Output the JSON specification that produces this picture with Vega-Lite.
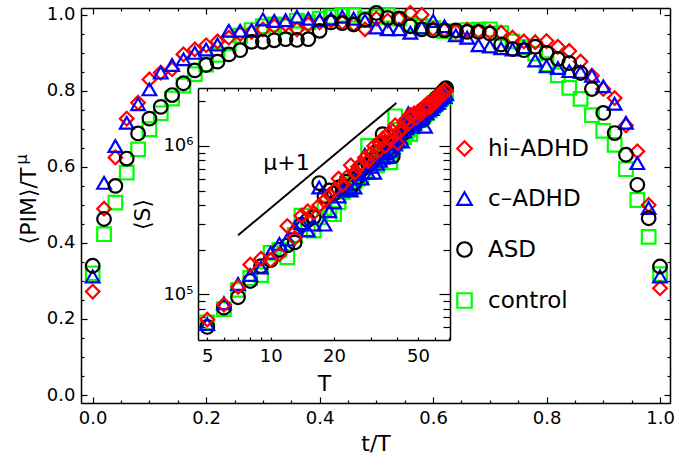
{
  "$schema": "https://vega.github.io/schema/vega-lite/v6.json",
  "width": 589,
  "height": 395,
  "autosize": {"type": "none"},
  "padding": {"left": 81, "top": 8, "right": 5, "bottom": 61},
  "background": "white",
  "config": {
    "font": "DejaVu Sans",
    "view": {"stroke": null},
    "axis": {
      "grid": false,
      "domainColor": "black",
      "domainWidth": 1.5,
      "tickColor": "black",
      "tickWidth": 1.2,
      "labelColor": "black",
      "titleColor": "black",
      "labelFont": "DejaVu Sans",
      "titleFont": "DejaVu Sans",
      "labelFontSize": 18,
      "titleFontSize": 22,
      "titleFontWeight": "normal",
      "labelFlush": false,
      "labelOverlap": false
    }
  },
  "datasets": {
    "main": [
      {"g":"control","x":0,"y":0.32},{"g":"control","x":0.02,"y":0.423},{"g":"control","x":0.04,"y":0.506},{"g":"control","x":0.06,"y":0.585},{"g":"control","x":0.08,"y":0.646},{"g":"control","x":0.1,"y":0.699},{"g":"control","x":0.12,"y":0.741},{"g":"control","x":0.14,"y":0.78},{"g":"control","x":0.16,"y":0.814},{"g":"control","x":0.18,"y":0.844},{"g":"control","x":0.2,"y":0.869},{"g":"control","x":0.22,"y":0.895},{"g":"control","x":0.24,"y":0.925},{"g":"control","x":0.26,"y":0.945},{"g":"control","x":0.28,"y":0.96},{"g":"control","x":0.3,"y":0.97},{"g":"control","x":0.32,"y":0.975},{"g":"control","x":0.34,"y":0.97},{"g":"control","x":0.36,"y":0.985},{"g":"control","x":0.38,"y":0.98},{"g":"control","x":0.4,"y":0.99},{"g":"control","x":0.42,"y":0.995},{"g":"control","x":0.44,"y":1.0},{"g":"control","x":0.46,"y":1.0},{"g":"control","x":0.48,"y":0.99},{"g":"control","x":0.5,"y":0.995},{"g":"control","x":0.52,"y":1.0},{"g":"control","x":0.54,"y":0.99},{"g":"control","x":0.56,"y":0.975},{"g":"control","x":0.58,"y":0.97},{"g":"control","x":0.6,"y":0.965},{"g":"control","x":0.62,"y":0.957},{"g":"control","x":0.64,"y":0.952},{"g":"control","x":0.66,"y":0.96},{"g":"control","x":0.68,"y":0.961},{"g":"control","x":0.7,"y":0.962},{"g":"control","x":0.72,"y":0.952},{"g":"control","x":0.74,"y":0.93},{"g":"control","x":0.76,"y":0.915},{"g":"control","x":0.78,"y":0.898},{"g":"control","x":0.8,"y":0.87},{"g":"control","x":0.82,"y":0.841},{"g":"control","x":0.84,"y":0.808},{"g":"control","x":0.86,"y":0.779},{"g":"control","x":0.88,"y":0.736},{"g":"control","x":0.9,"y":0.695},{"g":"control","x":0.92,"y":0.658},{"g":"control","x":0.94,"y":0.594},{"g":"control","x":0.96,"y":0.513},{"g":"control","x":0.98,"y":0.416},{"g":"control","x":1.0,"y":0.318},
      {"g":"hi–ADHD","x":0,"y":0.272},{"g":"hi–ADHD","x":0.02,"y":0.49},{"g":"hi–ADHD","x":0.04,"y":0.625},{"g":"hi–ADHD","x":0.06,"y":0.727},{"g":"hi–ADHD","x":0.08,"y":0.769},{"g":"hi–ADHD","x":0.1,"y":0.83},{"g":"hi–ADHD","x":0.12,"y":0.848},{"g":"hi–ADHD","x":0.14,"y":0.857},{"g":"hi–ADHD","x":0.16,"y":0.896},{"g":"hi–ADHD","x":0.18,"y":0.909},{"g":"hi–ADHD","x":0.2,"y":0.92},{"g":"hi–ADHD","x":0.22,"y":0.93},{"g":"hi–ADHD","x":0.24,"y":0.94},{"g":"hi–ADHD","x":0.26,"y":0.95},{"g":"hi–ADHD","x":0.28,"y":0.955},{"g":"hi–ADHD","x":0.3,"y":0.962},{"g":"hi–ADHD","x":0.32,"y":0.97},{"g":"hi–ADHD","x":0.34,"y":0.975},{"g":"hi–ADHD","x":0.36,"y":0.962},{"g":"hi–ADHD","x":0.38,"y":0.975},{"g":"hi–ADHD","x":0.4,"y":0.98},{"g":"hi–ADHD","x":0.42,"y":0.985},{"g":"hi–ADHD","x":0.44,"y":0.98},{"g":"hi–ADHD","x":0.46,"y":0.975},{"g":"hi–ADHD","x":0.48,"y":0.962},{"g":"hi–ADHD","x":0.5,"y":0.99},{"g":"hi–ADHD","x":0.52,"y":0.985},{"g":"hi–ADHD","x":0.54,"y":0.99},{"g":"hi–ADHD","x":0.56,"y":1.005},{"g":"hi–ADHD","x":0.58,"y":1.0},{"g":"hi–ADHD","x":0.6,"y":0.963},{"g":"hi–ADHD","x":0.62,"y":0.96},{"g":"hi–ADHD","x":0.64,"y":0.957},{"g":"hi–ADHD","x":0.66,"y":0.961},{"g":"hi–ADHD","x":0.68,"y":0.957},{"g":"hi–ADHD","x":0.7,"y":0.955},{"g":"hi–ADHD","x":0.72,"y":0.953},{"g":"hi–ADHD","x":0.74,"y":0.94},{"g":"hi–ADHD","x":0.76,"y":0.93},{"g":"hi–ADHD","x":0.78,"y":0.928},{"g":"hi–ADHD","x":0.8,"y":0.931},{"g":"hi–ADHD","x":0.82,"y":0.916},{"g":"hi–ADHD","x":0.84,"y":0.905},{"g":"hi–ADHD","x":0.86,"y":0.877},{"g":"hi–ADHD","x":0.88,"y":0.84},{"g":"hi–ADHD","x":0.9,"y":0.805},{"g":"hi–ADHD","x":0.92,"y":0.781},{"g":"hi–ADHD","x":0.94,"y":0.709},{"g":"hi–ADHD","x":0.96,"y":0.641},{"g":"hi–ADHD","x":0.98,"y":0.5},{"g":"hi–ADHD","x":1.0,"y":0.281},
      {"g":"c–ADHD","x":0,"y":0.312},{"g":"c–ADHD","x":0.02,"y":0.558},{"g":"c–ADHD","x":0.04,"y":0.655},{"g":"c–ADHD","x":0.06,"y":0.716},{"g":"c–ADHD","x":0.08,"y":0.765},{"g":"c–ADHD","x":0.1,"y":0.804},{"g":"c–ADHD","x":0.12,"y":0.848},{"g":"c–ADHD","x":0.14,"y":0.868},{"g":"c–ADHD","x":0.16,"y":0.883},{"g":"c–ADHD","x":0.18,"y":0.9},{"g":"c–ADHD","x":0.2,"y":0.909},{"g":"c–ADHD","x":0.22,"y":0.922},{"g":"c–ADHD","x":0.24,"y":0.958},{"g":"c–ADHD","x":0.26,"y":0.958},{"g":"c–ADHD","x":0.28,"y":0.959},{"g":"c–ADHD","x":0.3,"y":0.988},{"g":"c–ADHD","x":0.32,"y":0.984},{"g":"c–ADHD","x":0.34,"y":0.986},{"g":"c–ADHD","x":0.36,"y":0.995},{"g":"c–ADHD","x":0.38,"y":0.99},{"g":"c–ADHD","x":0.4,"y":0.986},{"g":"c–ADHD","x":0.42,"y":0.99},{"g":"c–ADHD","x":0.44,"y":0.995},{"g":"c–ADHD","x":0.46,"y":0.99},{"g":"c–ADHD","x":0.48,"y":0.985},{"g":"c–ADHD","x":0.5,"y":0.967},{"g":"c–ADHD","x":0.52,"y":0.962},{"g":"c–ADHD","x":0.54,"y":0.962},{"g":"c–ADHD","x":0.56,"y":0.953},{"g":"c–ADHD","x":0.58,"y":0.967},{"g":"c–ADHD","x":0.6,"y":0.984},{"g":"c–ADHD","x":0.62,"y":0.97},{"g":"c–ADHD","x":0.64,"y":0.946},{"g":"c–ADHD","x":0.66,"y":0.94},{"g":"c–ADHD","x":0.68,"y":0.92},{"g":"c–ADHD","x":0.7,"y":0.917},{"g":"c–ADHD","x":0.72,"y":0.912},{"g":"c–ADHD","x":0.74,"y":0.909},{"g":"c–ADHD","x":0.76,"y":0.915},{"g":"c–ADHD","x":0.78,"y":0.88},{"g":"c–ADHD","x":0.8,"y":0.865},{"g":"c–ADHD","x":0.82,"y":0.86},{"g":"c–ADHD","x":0.84,"y":0.852},{"g":"c–ADHD","x":0.86,"y":0.85},{"g":"c–ADHD","x":0.88,"y":0.84},{"g":"c–ADHD","x":0.9,"y":0.812},{"g":"c–ADHD","x":0.92,"y":0.766},{"g":"c–ADHD","x":0.94,"y":0.716},{"g":"c–ADHD","x":0.96,"y":0.61},{"g":"c–ADHD","x":0.98,"y":0.492},{"g":"c–ADHD","x":1.0,"y":0.312},
      {"g":"ASD","x":0,"y":0.34},{"g":"ASD","x":0.02,"y":0.463},{"g":"ASD","x":0.04,"y":0.55},{"g":"ASD","x":0.06,"y":0.622},{"g":"ASD","x":0.08,"y":0.688},{"g":"ASD","x":0.1,"y":0.727},{"g":"ASD","x":0.12,"y":0.758},{"g":"ASD","x":0.14,"y":0.789},{"g":"ASD","x":0.16,"y":0.82},{"g":"ASD","x":0.18,"y":0.854},{"g":"ASD","x":0.2,"y":0.868},{"g":"ASD","x":0.22,"y":0.877},{"g":"ASD","x":0.24,"y":0.896},{"g":"ASD","x":0.26,"y":0.907},{"g":"ASD","x":0.28,"y":0.929},{"g":"ASD","x":0.3,"y":0.929},{"g":"ASD","x":0.32,"y":0.933},{"g":"ASD","x":0.34,"y":0.936},{"g":"ASD","x":0.36,"y":0.934},{"g":"ASD","x":0.38,"y":0.936},{"g":"ASD","x":0.4,"y":0.958},{"g":"ASD","x":0.42,"y":0.98},{"g":"ASD","x":0.44,"y":0.978},{"g":"ASD","x":0.46,"y":0.975},{"g":"ASD","x":0.48,"y":0.987},{"g":"ASD","x":0.5,"y":1.005},{"g":"ASD","x":0.52,"y":0.992},{"g":"ASD","x":0.54,"y":0.99},{"g":"ASD","x":0.56,"y":0.97},{"g":"ASD","x":0.58,"y":0.962},{"g":"ASD","x":0.6,"y":0.959},{"g":"ASD","x":0.62,"y":0.959},{"g":"ASD","x":0.64,"y":0.959},{"g":"ASD","x":0.66,"y":0.955},{"g":"ASD","x":0.68,"y":0.955},{"g":"ASD","x":0.7,"y":0.951},{"g":"ASD","x":0.72,"y":0.922},{"g":"ASD","x":0.74,"y":0.91},{"g":"ASD","x":0.76,"y":0.907},{"g":"ASD","x":0.78,"y":0.916},{"g":"ASD","x":0.8,"y":0.9},{"g":"ASD","x":0.82,"y":0.884},{"g":"ASD","x":0.84,"y":0.873},{"g":"ASD","x":0.86,"y":0.847},{"g":"ASD","x":0.88,"y":0.805},{"g":"ASD","x":0.9,"y":0.742},{"g":"ASD","x":0.92,"y":0.689},{"g":"ASD","x":0.94,"y":0.632},{"g":"ASD","x":0.96,"y":0.553},{"g":"ASD","x":0.98,"y":0.465},{"g":"ASD","x":1.0,"y":0.338}
    ],
    "inset": [
      {"g":"control","T":5,"S":64570},{"g":"control","T":6,"S":79430},{"g":"control","T":7,"S":107200},{"g":"control","T":8,"S":128800},{"g":"control","T":9,"S":134900},{"g":"control","T":10,"S":190500},{"g":"control","T":11,"S":199500},{"g":"control","T":12,"S":177800},{"g":"control","T":13,"S":251200},{"g":"control","T":14,"S":338800},{"g":"control","T":15,"S":275400},{"g":"control","T":16,"S":269200},{"g":"control","T":17,"S":331100},{"g":"control","T":18,"S":380200},{"g":"control","T":19,"S":346700},{"g":"control","T":20,"S":346700},{"g":"control","T":21,"S":416900},{"g":"control","T":22,"S":489800},{"g":"control","T":23,"S":549500},{"g":"control","T":24,"S":524800},{"g":"control","T":25,"S":575400},{"g":"control","T":26,"S":602600},{"g":"control","T":27,"S":631000},{"g":"control","T":28,"S":676100},{"g":"control","T":29,"S":1000000},{"g":"control","T":30,"S":758600},{"g":"control","T":31,"S":794300},{"g":"control","T":32,"S":741300},{"g":"control","T":33,"S":831800},{"g":"control","T":34,"S":891300},{"g":"control","T":35,"S":933300},{"g":"control","T":36,"S":871000},{"g":"control","T":37,"S":776200},{"g":"control","T":38,"S":1000000},{"g":"control","T":39,"S":1585000},{"g":"control","T":40,"S":1072000},{"g":"control","T":41,"S":1122000},{"g":"control","T":42,"S":1175000},{"g":"control","T":43,"S":1148000},{"g":"control","T":44,"S":1230000},{"g":"control","T":45,"S":1288000},{"g":"control","T":46,"S":1202000},{"g":"control","T":47,"S":1349000},{"g":"control","T":48,"S":1413000},{"g":"control","T":49,"S":1479000},{"g":"control","T":50,"S":1549000},{"g":"control","T":51,"S":1514000},{"g":"control","T":52,"S":1622000},{"g":"control","T":53,"S":1585000},{"g":"control","T":54,"S":1698000},{"g":"control","T":55,"S":1660000},{"g":"control","T":56,"S":1778000},{"g":"control","T":57,"S":1738000},{"g":"control","T":58,"S":1862000},{"g":"control","T":59,"S":1820000},{"g":"control","T":60,"S":1950000},{"g":"control","T":61,"S":1905000},{"g":"control","T":62,"S":2042000},{"g":"control","T":63,"S":1995000},{"g":"control","T":64,"S":2089000},{"g":"control","T":65,"S":2138000},{"g":"control","T":66,"S":2188000},{"g":"control","T":67,"S":2138000},{"g":"control","T":68,"S":2239000},
      {"g":"ASD","T":5,"S":60260},{"g":"ASD","T":6,"S":81280},{"g":"ASD","T":7,"S":95500},{"g":"ASD","T":8,"S":123000},{"g":"ASD","T":9,"S":154900},{"g":"ASD","T":10,"S":169800},{"g":"ASD","T":11,"S":199500},{"g":"ASD","T":12,"S":213800},{"g":"ASD","T":13,"S":223900},{"g":"ASD","T":14,"S":295100},{"g":"ASD","T":15,"S":316200},{"g":"ASD","T":16,"S":331100},{"g":"ASD","T":17,"S":562300},{"g":"ASD","T":18,"S":457100},{"g":"ASD","T":19,"S":501200},{"g":"ASD","T":20,"S":478600},{"g":"ASD","T":21,"S":524800},{"g":"ASD","T":22,"S":537000},{"g":"ASD","T":23,"S":575400},{"g":"ASD","T":24,"S":524800},{"g":"ASD","T":25,"S":562300},{"g":"ASD","T":26,"S":616600},{"g":"ASD","T":27,"S":691800},{"g":"ASD","T":28,"S":724400},{"g":"ASD","T":29,"S":758600},{"g":"ASD","T":30,"S":758600},{"g":"ASD","T":31,"S":812800},{"g":"ASD","T":32,"S":891300},{"g":"ASD","T":33,"S":1000000},{"g":"ASD","T":34,"S":1202000},{"g":"ASD","T":35,"S":1047000},{"g":"ASD","T":36,"S":955000},{"g":"ASD","T":37,"S":912000},{"g":"ASD","T":38,"S":851100},{"g":"ASD","T":39,"S":1047000},{"g":"ASD","T":40,"S":1122000},{"g":"ASD","T":41,"S":1175000},{"g":"ASD","T":42,"S":1259000},{"g":"ASD","T":43,"S":1230000},{"g":"ASD","T":44,"S":1349000},{"g":"ASD","T":45,"S":1413000},{"g":"ASD","T":46,"S":1380000},{"g":"ASD","T":47,"S":1479000},{"g":"ASD","T":48,"S":1549000},{"g":"ASD","T":49,"S":1445000},{"g":"ASD","T":50,"S":1585000},{"g":"ASD","T":51,"S":1660000},{"g":"ASD","T":52,"S":1622000},{"g":"ASD","T":53,"S":1514000},{"g":"ASD","T":54,"S":1738000},{"g":"ASD","T":55,"S":1698000},{"g":"ASD","T":56,"S":1820000},{"g":"ASD","T":57,"S":1905000},{"g":"ASD","T":58,"S":1862000},{"g":"ASD","T":59,"S":1950000},{"g":"ASD","T":60,"S":2042000},{"g":"ASD","T":61,"S":1995000},{"g":"ASD","T":62,"S":2138000},{"g":"ASD","T":63,"S":2089000},{"g":"ASD","T":64,"S":2188000},{"g":"ASD","T":65,"S":2291000},{"g":"ASD","T":66,"S":2344000},{"g":"ASD","T":67,"S":2399000},{"g":"ASD","T":68,"S":2455000},
      {"g":"c–ADHD","T":5,"S":63100},{"g":"c–ADHD","T":6,"S":87100},{"g":"c–ADHD","T":7,"S":117500},{"g":"c–ADHD","T":8,"S":134900},{"g":"c–ADHD","T":9,"S":151400},{"g":"c–ADHD","T":10,"S":190500},{"g":"c–ADHD","T":11,"S":218800},{"g":"c–ADHD","T":12,"S":234400},{"g":"c–ADHD","T":13,"S":281800},{"g":"c–ADHD","T":14,"S":302000},{"g":"c–ADHD","T":15,"S":269200},{"g":"c–ADHD","T":16,"S":295100},{"g":"c–ADHD","T":17,"S":524800},{"g":"c–ADHD","T":18,"S":295100},{"g":"c–ADHD","T":19,"S":363100},{"g":"c–ADHD","T":20,"S":416900},{"g":"c–ADHD","T":21,"S":457100},{"g":"c–ADHD","T":22,"S":501200},{"g":"c–ADHD","T":23,"S":512900},{"g":"c–ADHD","T":24,"S":501200},{"g":"c–ADHD","T":25,"S":524800},{"g":"c–ADHD","T":26,"S":645700},{"g":"c–ADHD","T":27,"S":602600},{"g":"c–ADHD","T":28,"S":871000},{"g":"c–ADHD","T":29,"S":660700},{"g":"c–ADHD","T":30,"S":724400},{"g":"c–ADHD","T":31,"S":660700},{"g":"c–ADHD","T":32,"S":758600},{"g":"c–ADHD","T":33,"S":794300},{"g":"c–ADHD","T":34,"S":831800},{"g":"c–ADHD","T":35,"S":891300},{"g":"c–ADHD","T":36,"S":851100},{"g":"c–ADHD","T":37,"S":933300},{"g":"c–ADHD","T":38,"S":977200},{"g":"c–ADHD","T":39,"S":1023000},{"g":"c–ADHD","T":40,"S":1096000},{"g":"c–ADHD","T":41,"S":1148000},{"g":"c–ADHD","T":42,"S":1072000},{"g":"c–ADHD","T":43,"S":1259000},{"g":"c–ADHD","T":44,"S":1318000},{"g":"c–ADHD","T":45,"S":1660000},{"g":"c–ADHD","T":46,"S":1445000},{"g":"c–ADHD","T":47,"S":1349000},{"g":"c–ADHD","T":48,"S":1413000},{"g":"c–ADHD","T":49,"S":1514000},{"g":"c–ADHD","T":50,"S":1479000},{"g":"c–ADHD","T":51,"S":1585000},{"g":"c–ADHD","T":52,"S":1549000},{"g":"c–ADHD","T":53,"S":1622000},{"g":"c–ADHD","T":54,"S":1349000},{"g":"c–ADHD","T":55,"S":1660000},{"g":"c–ADHD","T":56,"S":1738000},{"g":"c–ADHD","T":57,"S":1820000},{"g":"c–ADHD","T":58,"S":1778000},{"g":"c–ADHD","T":59,"S":1862000},{"g":"c–ADHD","T":60,"S":1905000},{"g":"c–ADHD","T":61,"S":1995000},{"g":"c–ADHD","T":62,"S":1950000},{"g":"c–ADHD","T":63,"S":2042000},{"g":"c–ADHD","T":64,"S":2089000},{"g":"c–ADHD","T":65,"S":2138000},{"g":"c–ADHD","T":66,"S":2188000},{"g":"c–ADHD","T":67,"S":2138000},{"g":"c–ADHD","T":68,"S":2239000},
      {"g":"hi–ADHD","T":5,"S":67600},{"g":"hi–ADHD","T":6,"S":85100},{"g":"hi–ADHD","T":7,"S":112200},{"g":"hi–ADHD","T":8,"S":158500},{"g":"hi–ADHD","T":9,"S":173800},{"g":"hi–ADHD","T":10,"S":169800},{"g":"hi–ADHD","T":11,"S":186200},{"g":"hi–ADHD","T":12,"S":288400},{"g":"hi–ADHD","T":13,"S":239900},{"g":"hi–ADHD","T":14,"S":338800},{"g":"hi–ADHD","T":15,"S":363100},{"g":"hi–ADHD","T":16,"S":354800},{"g":"hi–ADHD","T":17,"S":398100},{"g":"hi–ADHD","T":18,"S":426600},{"g":"hi–ADHD","T":19,"S":467700},{"g":"hi–ADHD","T":20,"S":501200},{"g":"hi–ADHD","T":21,"S":602600},{"g":"hi–ADHD","T":22,"S":549500},{"g":"hi–ADHD","T":23,"S":616600},{"g":"hi–ADHD","T":24,"S":741300},{"g":"hi–ADHD","T":25,"S":660700},{"g":"hi–ADHD","T":26,"S":724400},{"g":"hi–ADHD","T":27,"S":758600},{"g":"hi–ADHD","T":28,"S":831800},{"g":"hi–ADHD","T":29,"S":794300},{"g":"hi–ADHD","T":30,"S":891300},{"g":"hi–ADHD","T":31,"S":1000000},{"g":"hi–ADHD","T":32,"S":912000},{"g":"hi–ADHD","T":33,"S":1047000},{"g":"hi–ADHD","T":34,"S":1122000},{"g":"hi–ADHD","T":35,"S":1000000},{"g":"hi–ADHD","T":36,"S":1202000},{"g":"hi–ADHD","T":37,"S":1096000},{"g":"hi–ADHD","T":38,"S":1259000},{"g":"hi–ADHD","T":39,"S":1380000},{"g":"hi–ADHD","T":40,"S":1047000},{"g":"hi–ADHD","T":41,"S":1259000},{"g":"hi–ADHD","T":42,"S":1318000},{"g":"hi–ADHD","T":43,"S":1445000},{"g":"hi–ADHD","T":44,"S":1514000},{"g":"hi–ADHD","T":45,"S":1413000},{"g":"hi–ADHD","T":46,"S":1622000},{"g":"hi–ADHD","T":47,"S":1585000},{"g":"hi–ADHD","T":48,"S":1660000},{"g":"hi–ADHD","T":49,"S":1549000},{"g":"hi–ADHD","T":50,"S":1698000},{"g":"hi–ADHD","T":51,"S":1738000},{"g":"hi–ADHD","T":52,"S":1660000},{"g":"hi–ADHD","T":53,"S":1820000},{"g":"hi–ADHD","T":54,"S":1778000},{"g":"hi–ADHD","T":55,"S":1905000},{"g":"hi–ADHD","T":56,"S":1862000},{"g":"hi–ADHD","T":57,"S":1820000},{"g":"hi–ADHD","T":58,"S":1995000},{"g":"hi–ADHD","T":59,"S":2042000},{"g":"hi–ADHD","T":60,"S":1950000},{"g":"hi–ADHD","T":61,"S":2089000},{"g":"hi–ADHD","T":62,"S":2138000},{"g":"hi–ADHD","T":63,"S":2239000},{"g":"hi–ADHD","T":64,"S":2188000},{"g":"hi–ADHD","T":65,"S":2291000},{"g":"hi–ADHD","T":66,"S":2239000},{"g":"hi–ADHD","T":67,"S":2399000},{"g":"hi–ADHD","T":68,"S":2344000}
    ],
    "slope": [{"T": 7, "S": 250000}, {"T": 39.5, "S": 1950000}],
    "note": [{"text": "μ+1", "T": 11.9, "S": 764000}],
    "sup": [{"text": "μ", "x": -0.125, "y": 0.62}]
  },
  "resolve": {"scale": {"x": "independent", "y": "independent"}},
  "layer": [
    {
      "data": {"name": "main"},
      "mark": {"type": "point", "filled": false, "size": 185, "strokeWidth": 2.2, "opacity": 1},
      "encoding": {
        "x": {"field": "x", "type": "quantitative", "scale": {"domain": [-0.0206, 1.0176], "nice": false, "zero": false},
          "axis": {"orient": "bottom", "values": [0, 0.2, 0.4, 0.6, 0.8, 1.0], "format": ".1f", "tickSize": -6, "labelPadding": 12, "title": "t/T", "titlePadding": 6}},
        "y": {"field": "y", "type": "quantitative", "scale": {"domain": [-0.021, 1.018], "nice": false, "zero": false},
          "axis": {"orient": "left", "values": [0, 0.2, 0.4, 0.6, 0.8, 1.0], "format": ".1f", "tickSize": -6, "labelPadding": 12, "title": "⟨PIM⟩/T", "titlePadding": 6}},
        "color": {"field": "g", "type": "nominal",
          "scale": {"domain": ["hi–ADHD", "c–ADHD", "ASD", "control"], "range": ["#ff0000", "#0000ff", "#000000", "#00ff00"]},
          "legend": {"orient": "none", "legendX": 372, "legendY": 129, "title": null, "labelFontSize": 23, "labelColor": "black", "symbolSize": 210, "symbolStrokeWidth": 2.2, "rowPadding": 26, "labelOffset": 12, "padding": 0}},
        "shape": {"field": "g", "type": "nominal",
          "scale": {"domain": ["hi–ADHD", "c–ADHD", "ASD", "control"], "range": ["diamond", "triangle-up", "circle", "square"]},
          "legend": {"orient": "none", "legendX": 372, "legendY": 129, "title": null, "labelFontSize": 23, "labelColor": "black", "symbolSize": 210, "symbolStrokeWidth": 2.2, "rowPadding": 26, "labelOffset": 12, "padding": 0}}
      }
    },
    {
      "data": {"name": "sup"},
      "mark": {"type": "text", "fontSize": 16, "angle": 270, "align": "center", "baseline": "middle", "color": "black"},
      "encoding": {
        "x": {"field": "x", "type": "quantitative", "scale": {"domain": [-0.0206, 1.0176], "nice": false, "zero": false},
          "axis": {"orient": "bottom", "values": [0.05, 0.1, 0.15, 0.25, 0.3, 0.35, 0.45, 0.5, 0.55, 0.65, 0.7, 0.75, 0.85, 0.9, 0.95], "tickSize": -3, "labels": false, "domain": false, "title": null}},
        "y": {"field": "y", "type": "quantitative", "scale": {"domain": [-0.021, 1.018], "nice": false, "zero": false},
          "axis": {"orient": "left", "values": [0.05, 0.1, 0.15, 0.25, 0.3, 0.35, 0.45, 0.5, 0.55, 0.65, 0.7, 0.75, 0.85, 0.9, 0.95], "tickSize": -3, "labels": false, "domain": false, "title": null}},
        "text": {"field": "text"}
      }
    },
    {
      "data": {"name": "sup"},
      "mark": {"type": "point", "opacity": 0},
      "encoding": {
        "x": {"field": "x", "type": "quantitative", "scale": {"domain": [-0.0206, 1.0176], "nice": false, "zero": false},
          "axis": {"orient": "top", "values": [0, 0.2, 0.4, 0.6, 0.8, 1.0], "tickSize": -6, "labels": false, "title": null}},
        "y": {"field": "y", "type": "quantitative", "scale": {"domain": [-0.021, 1.018], "nice": false, "zero": false},
          "axis": {"orient": "right", "values": [0, 0.2, 0.4, 0.6, 0.8, 1.0], "tickSize": -6, "labels": false, "title": null}}
      }
    },
    {
      "data": {"name": "sup"},
      "mark": {"type": "point", "opacity": 0},
      "encoding": {
        "x": {"field": "x", "type": "quantitative", "scale": {"domain": [-0.0206, 1.0176], "nice": false, "zero": false},
          "axis": {"orient": "top", "values": [0.05, 0.1, 0.15, 0.25, 0.3, 0.35, 0.45, 0.5, 0.55, 0.65, 0.7, 0.75, 0.85, 0.9, 0.95], "tickSize": -3, "labels": false, "domain": false, "title": null}},
        "y": {"field": "y", "type": "quantitative", "scale": {"domain": [-0.021, 1.018], "nice": false, "zero": false},
          "axis": {"orient": "right", "values": [0.05, 0.1, 0.15, 0.25, 0.3, 0.35, 0.45, 0.5, 0.55, 0.65, 0.7, 0.75, 0.85, 0.9, 0.95], "tickSize": -3, "labels": false, "domain": false, "title": null}}
      }
    },
    {
      "data": {"name": "inset"},
      "mark": {"type": "point", "filled": false, "size": 185, "strokeWidth": 2.2, "opacity": 1},
      "encoding": {
        "x": {"field": "T", "type": "quantitative", "scale": {"type": "log", "domain": [4.52, 71], "range": [117, 369], "nice": false},
          "axis": {"orient": "bottom", "offset": -63, "values": [5, 6, 7, 8, 9, 10, 20, 30, 40, 50, 60, 70], "labelExpr": "(datum.value == 5 || datum.value == 10 || datum.value == 20 || datum.value == 50) ? '' + datum.value : ''", "tickSize": -3, "labelPadding": 10, "title": "T", "titlePadding": 8}},
        "y": {"field": "S", "type": "quantitative", "scale": {"type": "log", "domain": [49200, 2460000], "range": [332, 80], "nice": false},
          "axis": {"orient": "left", "offset": -117, "values": [100000, 1000000], "labelExpr": "datum.value >= 500000 ? '10⁶' : '10⁵'", "tickSize": -11, "labelPadding": 16, "title": "⟨S⟩", "titlePadding": 8}},
        "color": {"field": "g", "type": "nominal",
          "scale": {"domain": ["hi–ADHD", "c–ADHD", "ASD", "control"], "range": ["#ff0000", "#0000ff", "#000000", "#00ff00"]}, "legend": null},
        "shape": {"field": "g", "type": "nominal",
          "scale": {"domain": ["hi–ADHD", "c–ADHD", "ASD", "control"], "range": ["diamond", "triangle-up", "circle", "square"]}, "legend": null}
      }
    },
    {
      "data": {"name": "slope"},
      "mark": {"type": "line", "color": "black", "strokeWidth": 2},
      "encoding": {
        "x": {"field": "T", "type": "quantitative", "scale": {"type": "log", "domain": [4.52, 71], "range": [117, 369], "nice": false},
          "axis": {"orient": "top", "offset": -80, "values": [5, 6, 7, 8, 9, 10, 20, 30, 40, 50, 60, 70], "tickSize": -3, "labels": false, "title": null}},
        "y": {"field": "S", "type": "quantitative", "scale": {"type": "log", "domain": [49200, 2460000], "range": [332, 80], "nice": false},
          "axis": {"orient": "left", "offset": -117, "values": [60000, 70000, 80000, 90000, 200000, 300000, 400000, 500000, 600000, 700000, 800000, 900000, 2000000], "tickSize": -7, "labels": false, "domain": false, "title": null}}
      }
    },
    {
      "data": {"name": "note"},
      "mark": {"type": "text", "fontSize": 22, "align": "center", "baseline": "middle", "color": "black"},
      "encoding": {
        "x": {"field": "T", "type": "quantitative", "scale": {"type": "log", "domain": [4.52, 71], "range": [117, 369], "nice": false}, "axis": null},
        "y": {"field": "S", "type": "quantitative", "scale": {"type": "log", "domain": [49200, 2460000], "range": [332, 80], "nice": false},
          "axis": {"orient": "right", "offset": -220, "values": [100000, 1000000], "tickSize": -11, "labels": false, "title": null}},
        "text": {"field": "text"}
      }
    },
    {
      "data": {"name": "slope"},
      "mark": {"type": "point", "opacity": 0},
      "encoding": {
        "x": {"field": "T", "type": "quantitative", "scale": {"type": "log", "domain": [4.52, 71], "range": [117, 369], "nice": false}, "axis": null},
        "y": {"field": "S", "type": "quantitative", "scale": {"type": "log", "domain": [49200, 2460000], "range": [332, 80], "nice": false},
          "axis": {"orient": "right", "offset": -220, "values": [60000, 70000, 80000, 90000, 200000, 300000, 400000, 500000, 600000, 700000, 800000, 900000, 2000000], "tickSize": -7, "labels": false, "domain": false, "title": null}}
      }
    }
  ]
}
